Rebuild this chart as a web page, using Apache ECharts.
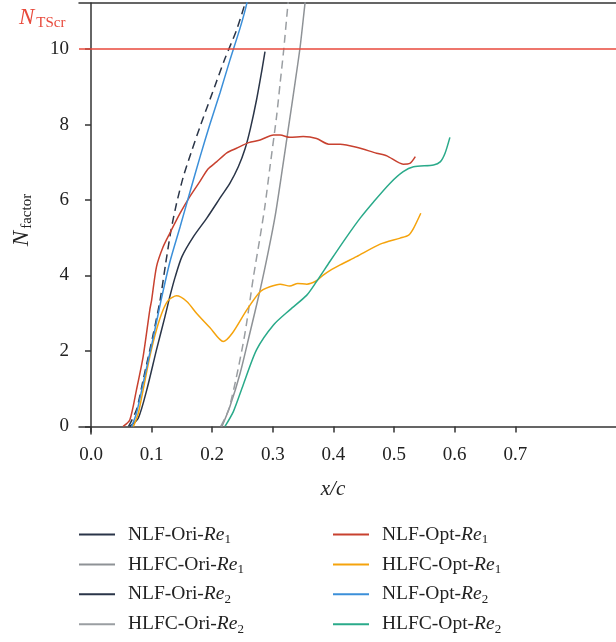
<!DOCTYPE html>
<html>
<head>
<meta charset="utf-8">
<script src="https://cdn.jsdelivr.net/npm/echarts@6/dist/echarts.min.js"></script>
<style>html,body{margin:0;padding:0;background:#fff}#c{width:616px;height:642px}</style>
</head>
<body>
<div id="c"></div>
<script>
// ---- data (x/c, N factor) ----
var xTicks = [0, 0.1, 0.2, 0.3, 0.4, 0.5, 0.6, 0.7];
var yTicks = [0, 2, 4, 6, 8, 10];
var nTScr = 10;

var nlfOriRe1 = [[0.064,0],[0.078,0.22],[0.092,0.97],[0.108,2.03],[0.122,2.91],[0.130,3.44],[0.139,3.97],[0.150,4.50],[0.169,5.03],[0.191,5.52],[0.216,6.13],[0.229,6.44],[0.243,6.88],[0.254,7.35],[0.263,7.9],[0.273,8.65],[0.282,9.45],[0.287,9.93]];
var hlfcOriRe1 = [[0.216,0],[0.229,0.52],[0.246,1.41],[0.262,2.47],[0.279,3.62],[0.293,4.68],[0.304,5.60],[0.315,6.75],[0.326,7.95],[0.337,9.15],[0.345,10.06],[0.353,11.21],[0.356,11.6]];
var nlfOriRe2 = [[0.062,0],[0.075,0.44],[0.086,1.23],[0.103,2.47],[0.114,3.35],[0.123,4.3],[0.132,5.2],[0.141,5.9],[0.152,6.6],[0.165,7.25],[0.180,7.95],[0.205,9.05],[0.221,9.75],[0.240,10.5],[0.254,11.21],[0.259,11.6]];
var hlfcOriRe2 = [[0.214,0],[0.227,0.44],[0.240,1.32],[0.254,2.47],[0.268,3.97],[0.279,5.03],[0.287,5.85],[0.295,6.85],[0.306,8.2],[0.312,9.1],[0.318,10.0],[0.325,11.21],[0.328,11.6]];
var nlfOptRe1 = [[0.053,0],[0.064,0.17],[0.075,0.97],[0.086,1.85],[0.097,3.09],[0.100,3.35],[0.108,4.23],[0.119,4.76],[0.130,5.12],[0.147,5.65],[0.163,6.09],[0.180,6.50],[0.193,6.82],[0.207,7.01],[0.224,7.25],[0.240,7.37],[0.260,7.52],[0.279,7.59],[0.301,7.72],[0.312,7.72],[0.328,7.66],[0.350,7.68],[0.372,7.63],[0.392,7.48],[0.411,7.48],[0.438,7.40],[0.471,7.24],[0.488,7.17],[0.515,6.95],[0.526,6.97],[0.535,7.15]];
var hlfcOptRe1 = [[0.070,0],[0.078,0.35],[0.086,0.97],[0.097,1.85],[0.108,2.56],[0.119,3.09],[0.128,3.35],[0.141,3.46],[0.158,3.31],[0.174,3.00],[0.196,2.62],[0.218,2.25],[0.233,2.47],[0.257,3.09],[0.279,3.57],[0.295,3.70],[0.312,3.77],[0.328,3.72],[0.341,3.79],[0.356,3.77],[0.372,3.86],[0.383,4.01],[0.394,4.13],[0.411,4.28],[0.438,4.50],[0.477,4.83],[0.510,4.99],[0.524,5.07],[0.532,5.25],[0.544,5.65]];
var nlfOptRe2 = [[0.067,0],[0.075,0.35],[0.086,1.14],[0.103,2.38],[0.115,3.30],[0.130,4.35],[0.147,5.29],[0.163,6.20],[0.180,7.15],[0.196,8.0],[0.213,8.85],[0.229,9.7],[0.246,10.56],[0.257,11.21],[0.261,11.6]];
var hlfcOptRe2 = [[0.221,0],[0.235,0.40],[0.251,1.10],[0.273,2.03],[0.301,2.69],[0.328,3.09],[0.356,3.48],[0.372,3.84],[0.394,4.37],[0.422,5.03],[0.444,5.52],[0.466,5.95],[0.493,6.44],[0.515,6.75],[0.532,6.88],[0.565,6.93],[0.576,7.01],[0.584,7.24],[0.592,7.66]];

var namesLeft = ['NLF-Ori-Re1','HLFC-Ori-Re1','NLF-Ori-Re2','HLFC-Ori-Re2'];
var namesRight = ['NLF-Opt-Re1','HLFC-Opt-Re1','NLF-Opt-Re2','HLFC-Opt-Re2'];

var FONT = '"Liberation Serif", "DejaVu Serif", serif';

function mk(name, data, color, dashed) {
  return {
    name: name, type: 'line', data: data, symbol: 'none', smooth: 0.25,
    lineStyle: { color: color, width: 1.5, type: dashed ? [8, 5] : 'solid' },
    itemStyle: { color: color }, z: 3
  };
}

function legendFmt(name) {
  var m = name.match(/^(.*-)Re(\d)$/);
  return '{r|' + m[1] + '}{i|Re}{s|' + m[2] + '}';
}
var legendRich = {
  r: { fontFamily: FONT, fontSize: 19.5, color: '#222', lineHeight: 22 },
  i: { fontFamily: FONT, fontSize: 19.5, fontStyle: 'italic', color: '#222', lineHeight: 22 },
  s: { fontFamily: FONT, fontSize: 13, color: '#222', padding: [10, 0, 0, 0], lineHeight: 22 }
};
function legendCfg(left, names) {
  return {
    orient: 'vertical', left: left, top: 523, padding: 0, data: names,
    itemWidth: 36, itemHeight: 14, itemGap: 6.9,
    icon: 'path://M0,0 L36,0 L36,2 L0,2 Z',
    formatter: legendFmt,
    textStyle: { fontFamily: FONT, fontSize: 19.5, color: '#222', rich: legendRich, padding: [0, 0, 0, 8] },
    selectedMode: false
  };
}

var chart = echarts.init(document.getElementById('c'), null, { renderer: 'canvas' });
chart.setOption({
  animation: false,
  backgroundColor: '#fff',
  grid: { left: 79, top: 3, right: 0, bottom: 208 },
  xAxis: [{
    type: 'value', min: -0.0198, max: 0.866,
    axisLine: { show: true, lineStyle: { color: '#333', width: 1.5 } },
    axisTick: { show: true, length: 6, customValues: xTicks, lineStyle: { color: '#333', width: 1.5 } },
    axisLabel: { customValues: xTicks, fontFamily: FONT, fontSize: 19, color: '#222', margin: 12,
      formatter: function (v) { return v.toFixed(1); } },
    splitLine: { show: false }
  }, {
    type: 'value', position: 'top', min: -0.0198, max: 0.866,
    axisLine: { show: true, lineStyle: { color: '#333', width: 1.5 } },
    axisTick: { show: false }, axisLabel: { show: false }, splitLine: { show: false }
  }],
  yAxis: {
    type: 'value', min: -0.2, max: 11.22,
    axisLine: { show: true, lineStyle: { color: '#333', width: 1.5 } },
    axisTick: { show: true, length: 6, customValues: yTicks, lineStyle: { color: '#333', width: 1.5 } },
    axisLabel: { customValues: yTicks, fontFamily: FONT, fontSize: 19, color: '#222', margin: 10 },
    splitLine: { show: false }
  },
  legend: [legendCfg(79, namesLeft), legendCfg(333, namesRight)],
  graphic: [
    { type: 'text', left: 19, top: 5, style: {
        text: '{n|N}{s|TScr}', fill: '#e8493b',
        rich: { n: { fontFamily: FONT, fontSize: 23, fontStyle: 'italic', fill: '#e8493b', lineHeight: 26 },
                s: { fontFamily: FONT, fontSize: 15, fill: '#e8493b', padding: [11, 0, 0, 2], lineHeight: 26 } } } },
    { type: 'text', x: 333, y: 489, style: {
        text: 'x/c', fontFamily: FONT, fontSize: 21, fontStyle: 'italic', fill: '#222',
        textAlign: 'center', textVerticalAlign: 'middle' } },
    { type: 'text', x: 22, y: 220, rotation: Math.PI / 2, style: {
        text: '{n|N}{s|factor}', textAlign: 'center', textVerticalAlign: 'middle',
        rich: { n: { fontFamily: FONT, fontSize: 23, fontStyle: 'italic', fill: '#222', lineHeight: 26 },
                s: { fontFamily: FONT, fontSize: 15, fill: '#222', padding: [10, 0, 0, 2], lineHeight: 26 } } } }
  ],
  series: [
    mk('NLF-Ori-Re1', nlfOriRe1, '#2a3548', false),
    mk('HLFC-Ori-Re1', hlfcOriRe1, '#8e9296', false),
    mk('NLF-Ori-Re2', nlfOriRe2, '#2a3548', true),
    mk('HLFC-Ori-Re2', hlfcOriRe2, '#9a9ea2', true),
    mk('NLF-Opt-Re1', nlfOptRe1, '#c8412f', false),
    mk('HLFC-Opt-Re1', hlfcOptRe1, '#f5a30c', false),
    mk('NLF-Opt-Re2', nlfOptRe2, '#3b8fd9', false),
    mk('HLFC-Opt-Re2', hlfcOptRe2, '#2aaa8a', false),
    { name: 'NTScr', type: 'line', data: [], symbol: 'none', z: 2,
      markLine: { silent: true, symbol: 'none', label: { show: false },
        lineStyle: { color: '#e8493b', width: 1.5, type: 'solid' },
        data: [{ yAxis: nTScr }] } }
  ]
});
</script>
</body>
</html>
